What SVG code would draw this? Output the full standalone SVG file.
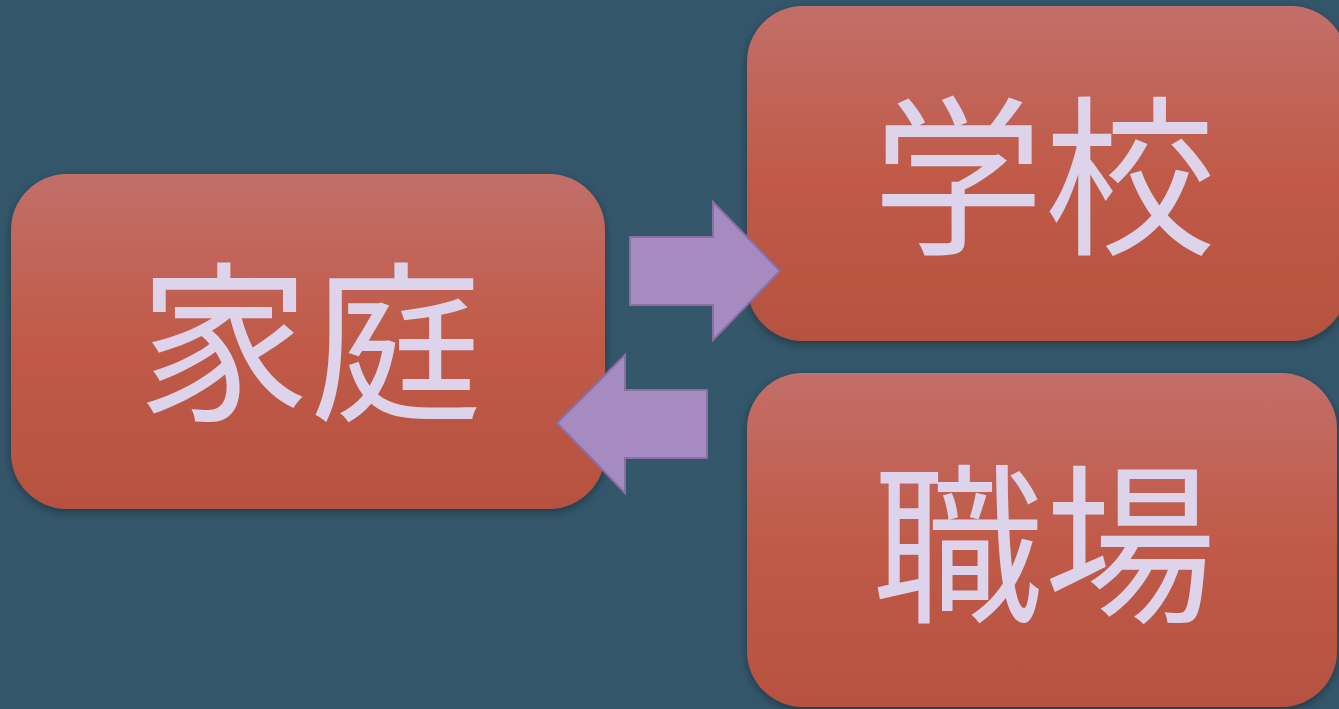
<svg xmlns="http://www.w3.org/2000/svg" width="1339" height="709" viewBox="0 0 1339 709">
<style>
.box{fill:url(#g);filter:url(#sh)}
.lbl{font-family:"Noto Sans CJK JP","Noto Sans CJK SC",sans-serif;font-size:172px;fill:#ddd3ea;text-anchor:middle;dominant-baseline:central}
.arr{fill:#a68bc1;stroke:#8870a6;stroke-width:2}
</style>
<defs>
<linearGradient id="g" x1="0" y1="0" x2="0" y2="1">
<stop offset="0" stop-color="#c26f69"/>
<stop offset="0.5" stop-color="#c05a48"/>
<stop offset="1" stop-color="#b65240"/>
</linearGradient>
<filter id="sh" x="-10%" y="-10%" width="120%" height="125%">
<feDropShadow dx="0" dy="3" stdDeviation="4" flood-color="#000" flood-opacity="0.35"/>
</filter>
</defs>
<rect width="1339" height="709" fill="#33566a"/>
<g id="node-katei">
<rect class="box" x="11" y="174" width="594" height="335" rx="56"/>
<text class="lbl" x="310" y="332">家庭</text>
</g>
<g id="node-gakko">
<rect class="box" x="747" y="6" width="600" height="335" rx="56"/>
<text class="lbl" x="1044" y="166">学校</text>
</g>
<g id="node-shokuba">
<rect class="box" x="747" y="373" width="590" height="334" rx="56"/>
<text class="lbl" x="1044" y="534">職場</text>
</g>
<g id="connectors">
<polygon class="arr" points="630,237 713,237 713,202 780,271 713,340 713,305 630,305"/>
<polygon class="arr" points="707,390 625,390 625,355 557,423 625,493 625,458 707,458"/>
</g>
</svg>
